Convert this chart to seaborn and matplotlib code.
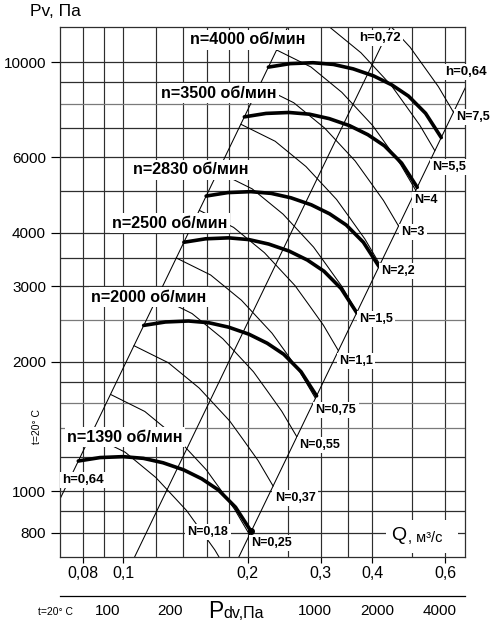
import matplotlib
matplotlib.use('Agg')
import numpy as np
import pandas as pd
import matplotlib.pyplot as plt
import seaborn as sns
from matplotlib.ticker import NullLocator, FixedLocator, FixedFormatter
from matplotlib.patches import Rectangle

# ------------------------------------------------------------------ data
SPEEDS = [1390, 2000, 2500, 2830, 3500, 4000]
SPEED_LABELS = ['n=1390 об/мин', 'n=2000 об/мин', 'n=2500 об/мин',
                'n=2830 об/мин', 'n=3500 об/мин', 'n=4000 об/мин']

# fan curves: Q (m3/s), Pv (Pa)
Q_1390 = [0.0780, 0.0880, 0.1000, 0.1120, 0.1250, 0.1400, 0.1550, 0.1700, 0.1870, 0.2040]
P_1390 = [1175, 1197, 1203, 1192, 1164, 1121, 1068, 1006, 917, 805]
Q_2000 = [0.1122, 0.1266, 0.1439, 0.1612, 0.1799, 0.2014, 0.2230, 0.2446, 0.2691, 0.2935]
P_2000 = [2433, 2478, 2491, 2468, 2410, 2321, 2211, 2083, 1898, 1667]
Q_2500 = [0.1403, 0.1583, 0.1799, 0.2014, 0.2248, 0.2518, 0.2788, 0.3058, 0.3363, 0.3669]
P_2500 = [3801, 3872, 3892, 3856, 3765, 3626, 3455, 3254, 2966, 2604]
Q_2830 = [0.1588, 0.1792, 0.2036, 0.2280, 0.2545, 0.2850, 0.3156, 0.3461, 0.3807, 0.4153]
P_2830 = [4871, 4962, 4987, 4941, 4825, 4647, 4427, 4170, 3801, 3337]
Q_3500 = [0.1964, 0.2216, 0.2518, 0.2820, 0.3148, 0.3525, 0.3903, 0.4281, 0.4709, 0.5137]
P_3500 = [7450, 7589, 7627, 7558, 7380, 7107, 6771, 6378, 5814, 5104]
Q_4000 = [0.2245, 0.2532, 0.2878, 0.3223, 0.3597, 0.4029, 0.4460, 0.4892, 0.5381, 0.5871]
P_4000 = [9730, 9913, 9962, 9871, 9639, 9283, 8844, 8331, 7594, 6666]

# power lines N (kW)
N_LEVELS = [0.18, 0.25, 0.37, 0.55, 0.75, 1.1, 1.5, 2.2, 3, 4, 5.5, 7.5]
N_LABELS = ['N=0,18', 'N=0,25', 'N=0,37', 'N=0,55', 'N=0,75', 'N=1,1',
            'N=1,5', 'N=2,2', 'N=3', 'N=4', 'N=5,5', 'N=7,5']
Q_N018 = [0.0836, 0.1012, 0.1201, 0.1424, 0.1532, 0.1667, 0.1812]
P_N018 = [1350, 1232, 1075, 901, 817, 729, 636]
Q_N025 = [0.0933, 0.1129, 0.1340, 0.1588, 0.1709, 0.1860, 0.2022]
P_N025 = [1680, 1533, 1338, 1122, 1017, 907, 791]
Q_N037 = [0.1063, 0.1287, 0.1528, 0.1810, 0.1948, 0.2120, 0.2305]
P_N037 = [2182, 1991, 1738, 1457, 1321, 1178, 1027]
Q_N055 = [0.1213, 0.1468, 0.1743, 0.2066, 0.2223, 0.2419, 0.2630]
P_N055 = [2842, 2593, 2264, 1897, 1720, 1534, 1338]
Q_N075 = [0.1345, 0.1628, 0.1933, 0.2291, 0.2465, 0.2682, 0.2916]
P_N075 = [3494, 3189, 2784, 2333, 2115, 1887, 1645]
Q_N110 = [0.1529, 0.1850, 0.2196, 0.2603, 0.2801, 0.3048, 0.3314]
P_N110 = [4511, 4117, 3594, 3012, 2731, 2436, 2124]
Q_N150 = [0.1695, 0.2051, 0.2436, 0.2886, 0.3106, 0.3380, 0.3674]
P_N150 = [5547, 5063, 4420, 3704, 3358, 2996, 2612]
Q_N220 = [0.1926, 0.2331, 0.2767, 0.3280, 0.3529, 0.3840, 0.4175]
P_N220 = [7161, 6536, 5706, 4782, 4335, 3867, 3372]
Q_N300 = [0.2136, 0.2585, 0.3069, 0.3637, 0.3913, 0.4258, 0.4630]
P_N300 = [8806, 8037, 7016, 5880, 5330, 4755, 4147]
Q_N400 = [0.2350, 0.2845, 0.3377, 0.4003, 0.4307, 0.4686, 0.5095]
P_N400 = [10667, 9735, 8499, 7123, 6457, 5760, 5023]
Q_N550 = [0.2614, 0.3163, 0.3756, 0.4451, 0.4789, 0.5211, 0.5666]
P_N550 = [13191, 12038, 10510, 8808, 7984, 7123, 6211]
Q_N750 = [0.2898, 0.3508, 0.4165, 0.4936, 0.5310, 0.5779, 0.6283]
P_N750 = [16220, 14803, 12924, 10831, 9818, 8759, 7638]

# efficiency lines (straight in log-log)
H_LABELS = ['h=0,64', 'h=0,72', 'h=0,64']
H_Q = [[0.060, 0.260], [0.100, 0.460], [0.180, 0.700]]
H_P = [[695, 13056], [617, 13045], [627, 9478]]

# axes
X_GRID = [0.08, 0.09, 0.1, 0.12, 0.14, 0.16, 0.18, 0.2, 0.25, 0.3, 0.35, 0.4, 0.5, 0.6]
Y_GRID = [800, 900, 1000, 1200, 1400, 1600, 1800, 2000, 2500, 3000, 3500,
          4000, 5000, 6000, 7000, 8000, 9000, 10000]
Y_GRID_LIGHT = [1400, 1600, 2500, 8000]
X_TICKS = [0.08, 0.1, 0.2, 0.3, 0.4, 0.6]
X_TICK_LABELS = ['0,08', '0,1', '0,2', '0,3', '0,4', '0,6']
Y_TICKS = [800, 1000, 2000, 3000, 4000, 6000, 10000]
Y_TICK_LABELS = ['800', '1000', '2000', '3000', '4000', '6000', '10000']
PDV_TICKS = [100, 200, 400, 600, 1000, 2000, 4000]
PDV_TICK_LABELS = ['100', '200', '', '', '1000', '2000', '4000']
PDV_PER_Q2 = 11815          # Pdv = k * Q^2

# ------------------------------------------------------------------ frames
fan_Q = [Q_1390, Q_2000, Q_2500, Q_2830, Q_3500, Q_4000]
fan_P = [P_1390, P_2000, P_2500, P_2830, P_3500, P_4000]
fan_df = pd.concat([pd.DataFrame({'n': s, 'Q': q, 'P': p})
                    for s, q, p in zip(SPEEDS, fan_Q, fan_P)], ignore_index=True)

arc_Q = [Q_N018, Q_N025, Q_N037, Q_N055, Q_N075, Q_N110,
         Q_N150, Q_N220, Q_N300, Q_N400, Q_N550, Q_N750]
arc_P = [P_N018, P_N025, P_N037, P_N055, P_N075, P_N110,
         P_N150, P_N220, P_N300, P_N400, P_N550, P_N750]
arc_df = pd.concat([pd.DataFrame({'N': n, 'Q': q, 'P': p})
                    for n, q, p in zip(N_LEVELS, arc_Q, arc_P)], ignore_index=True)

h_df = pd.concat([pd.DataFrame({'h': i, 'Q': q, 'P': p})
                  for i, (q, p) in enumerate(zip(H_Q, H_P))], ignore_index=True)

# ------------------------------------------------------------------ style
sns.set_theme(style='white')
plt.rcParams['font.family'] = ['Liberation Sans', 'DejaVu Sans']
plt.rcParams['axes.linewidth'] = 0.9

W, H = 500, 623
fig = plt.figure(figsize=(W / 100, H / 100), dpi=100)
fig.patch.set_facecolor('white')

def fx(x):
    return x / W

def fy(y):
    return 1 - y / H

L, R, T, B = 60, 465, 27, 557
ax = fig.add_axes([fx(L), fy(B), (R - L) / W, (B - T) / H])
ax.set_facecolor('white')
ax.set_xscale('log')
ax.set_yscale('log')
XLIM = (0.07045, 0.670)
YLIM = (702, 12067)

GRID_C = '#2e2e2e'
for g in X_GRID:
    ax.axvline(g, color=GRID_C, lw=0.85, zorder=1)
for g in Y_GRID:
    c = '#7a7a7a' if g in Y_GRID_LIGHT else GRID_C
    ax.axhline(g, color=c, lw=0.9, zorder=1)

sns.lineplot(data=h_df, x='Q', y='P', units='h', estimator=None, sort=False,
             color='black', linewidth=0.75, ax=ax, legend=False, zorder=2)
sns.lineplot(data=arc_df, x='Q', y='P', units='N', estimator=None, sort=False,
             color='black', linewidth=0.75, ax=ax, legend=False, zorder=2)
sns.lineplot(data=fan_df, x='Q', y='P', units='n', estimator=None, sort=False,
             color='black', linewidth=2.6, ax=ax, legend=False, zorder=3,
             solid_capstyle='round')
ax.plot([Q_1390[-1]], [P_1390[-1]], 'o', color='black', ms=4, zorder=3)

ax.set_xlim(*XLIM)
ax.set_ylim(*YLIM)
ax.set_xlabel('')
ax.set_ylabel('')

ax.xaxis.set_major_locator(FixedLocator(X_TICKS))
ax.xaxis.set_major_formatter(FixedFormatter(X_TICK_LABELS))
ax.xaxis.set_minor_locator(NullLocator())
ax.yaxis.set_major_locator(FixedLocator(Y_TICKS))
ax.yaxis.set_major_formatter(FixedFormatter(Y_TICK_LABELS))
ax.yaxis.set_minor_locator(NullLocator())
ax.tick_params(axis='x', which='major', direction='out', length=4.3, width=0.85,
               pad=2, labelsize=11.5, colors='black', bottom=True)
ax.tick_params(axis='y', which='major', direction='out', length=6.5, width=0.85,
               pad=3.5, labelsize=11, colors='black', left=True)
for sp in ax.spines.values():
    sp.set_color(GRID_C)
    sp.set_linewidth(0.9)
    sp.set_visible(True)

# secondary dynamic-pressure axis
PDV_Y = 596
ax2 = fig.add_axes([fx(L), fy(PDV_Y), (R - L) / W, 0.0001])
ax2.set_xscale('log')
ax2.set_xlim(PDV_PER_Q2 * XLIM[0] ** 2, PDV_PER_Q2 * XLIM[1] ** 2)
ax2.set_yticks([])
for k in ['left', 'right', 'top']:
    ax2.spines[k].set_visible(False)
ax2.spines['bottom'].set_color('black')
ax2.spines['bottom'].set_linewidth(0.9)
ax2.xaxis.set_major_locator(FixedLocator(PDV_TICKS))
ax2.xaxis.set_major_formatter(FixedFormatter(PDV_TICK_LABELS))
ax2.xaxis.set_minor_locator(NullLocator())
ax2.tick_params(axis='x', which='major', direction='in', length=3.6, width=0.85,
                pad=6, labelsize=11, colors='black')
ax2.patch.set_alpha(0)

# ------------------------------------------------------------------ texts
TF = fig.transFigure
box = dict(facecolor='white', edgecolor='none', pad=1.6)

SPEED_POS = [(125, 437), (149, 297), (170, 223), (191, 170), (219, 93), (248, 40)]
for lab, (x, y) in zip(SPEED_LABELS, SPEED_POS):
    ax.text(fx(x), fy(y), lab, transform=TF, ha='center', va='center',
            fontsize=11.6, fontweight='bold', color='black', bbox=box, zorder=10)

N_POS = [(208, 532), (272, 543), (295, 498), (320, 445), (336, 410), (356, 361),
         (376, 319), (398, 271), (413, 232), (426, 200), (449, 167), (473, 117)]
for lab, (x, y) in zip(N_LABELS, N_POS):
    ax.text(fx(x), fy(y), lab, transform=TF, ha='center', va='center',
            fontsize=9, fontweight='bold', color='black', bbox=box, zorder=10)

H_POS = [(83, 480), (380, 38), (466, 72)]
for lab, (x, y) in zip(H_LABELS, H_POS):
    ax.text(fx(x), fy(y), lab, transform=TF, ha='center', va='center',
            fontsize=9.5, fontweight='bold', color='black', bbox=box, zorder=10)

# Q axis label with white patch
ax.add_patch(Rectangle((fx(386), fy(553)), 72 / W, 33 / H, transform=TF,
                       facecolor='white', edgecolor='none', zorder=9, clip_on=False))
ax.text(fx(391), fy(535), 'Q', transform=TF, ha='left', va='center',
        fontsize=14, color='black', zorder=10)
ax.text(fx(408), fy(538), ', м³/с', transform=TF, ha='left', va='center',
        fontsize=10.5, color='black', zorder=10)

fig.text(fx(55), fy(12), 'Pv, Па', ha='center', va='center', fontsize=12.5, color='black')
fig.text(fx(208), fy(618.5), 'P', ha='left', va='baseline', fontsize=16.5, color='black')
fig.text(fx(223), fy(618.5), 'dv,Па', ha='left', va='baseline', fontsize=11.5, color='black')
fig.text(fx(55), fy(612), 't=20° C', ha='center', va='center', fontsize=7.5, color='black')
fig.text(fx(37), fy(426), 't=20° C', ha='center', va='center', rotation=90,
         fontsize=7.5, color='black')

fig.savefig('out.png', dpi=100, facecolor='white')
